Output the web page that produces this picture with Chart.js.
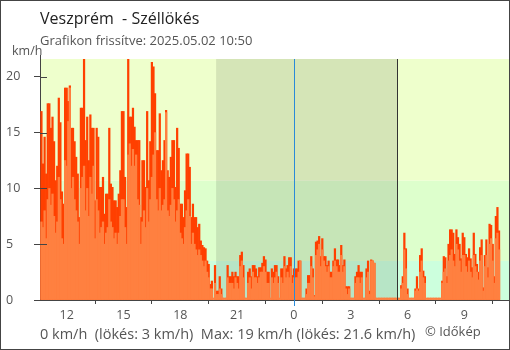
<!DOCTYPE html>
<html>
<head>
<meta charset="utf-8">
<script src="https://cdn.jsdelivr.net/npm/chart.js@4/dist/chart.umd.min.js"></script>
<style>
    html, body { margin: 0; padding: 0; background: #fff; }
    canvas { display: block; }
</style>
</head>
<body>
<canvas id="szel" width="510" height="350"></canvas>
<script>
'use strict';

// Veszprém széllökés, 5 perces adatok 10:40-tól másnap 10:50-ig
const startHour = 10 + 40 / 60;
const stepMinutes = 5;

const gust = [
    16.9, 12.2, 14.6, 11.3,
    17.6, 17.6, 15.4, 16.4, 14.2, 10.7, 12.0, 18.1, 15.9, 9.7, 8.6, 19.0,   // 11
    19.0, 17.8, 19.2, 15.4, 15.4, 14.2, 12.8, 11.3, 7.4, 17.2, 17.2, 21.6,  // 12
    14.3, 16.4, 12.5, 16.6, 15.4, 15.4, 8.9, 15.4, 14.6, 10.1, 10.1, 11.0,  // 13
    7.7, 9.5, 9.5, 15.4, 10.4, 10.1, 8.9, 8.9, 8.3, 9.5, 11.6, 16.9,        // 14
    16.9, 11.0, 8.3, 21.6, 16.4, 16.4, 17.2, 15.5, 14.3, 14.3, 14.3, 7.4,   // 15
    12.5, 12.5, 10.1, 16.9, 10.7, 14.2, 21.3, 20.9, 18.5, 13.4, 13.4, 16.7, // 16
    11.6, 12.5, 14.3, 17.0, 11.6, 11.0, 12.8, 14.3, 14.3, 10.1, 15.4, 13.6, // 17
    8.6, 8.6, 7.4, 9.8, 13.1, 13.1, 11.9, 7.4, 8.6, 7.4, 7.4, 6.5,          // 18
    6.8, 5.3, 4.9, 4.7, 4.6, 3.5, 3.2, 1.4, 1.7, 0, 3.1, 0.8,               // 19
    0.8, 2.1, 1.0, 0, 0, 0, 3.1, 2.1, 2.1, 2.5, 2.1, 2.5,                   // 20
    2.1, 2.1, 4.0, 4.3, 3.1, 0, 0, 2.5, 2.8, 2.1, 3.1, 3.1,                 // 21
    2.8, 2.1, 2.9, 2.9, 3.3, 3.9, 3.6, 2.5, 2.5, 0, 2.8, 2.5,               // 22
    3.1, 3.1, 2.1, 0, 2.8, 2.8, 3.9, 2.8, 3.1, 3.8, 3.8, 2.2,               // 23
    2.8, 2.8, 2.8, 3.5, 3.5, 0, 0, 0, 1.0, 2.2, 2.2, 3.9,                   // 0
    2.8, 0.4, 5.2, 5.3, 5.7, 3.9, 5.5, 3.9, 3.9, 3.1, 3.5, 2.5,             // 1
    2.5, 3.5, 4.6, 3.6, 3.6, 3.1, 4.9, 3.1, 3.6, 1.2, 1.2, 1.2,             // 2
    0, 0, 0, 2.1, 2.5, 3.1, 2.5, 2.5, 0, 0, 2.8, 3.5,                       // 3
    0.8, 3.6, 3.5, 3.3, 0, 0, 0, 0, 0, 0, 0, 0,                             // 4
    0, 0, 0, 0, 0, 0, 0, 0, 1.3, 2.1, 6.0, 4.6,                             // 5
    1.0, 0, 0, 0, 0, 1.0, 2.1, 1.0, 4.0, 4.6, 2.6, 2.1,                     // 6
    0, 0, 0, 0, 0, 0, 0, 0, 0, 0, 1.7, 3.9,                                 // 7
    3.8, 2.1, 5.0, 6.3, 6.3, 6.0, 4.1, 6.3, 5.6, 5.0, 3.7, 6.0,             // 8
    5.6, 4.1, 3.8, 4.6, 3.7, 2.9, 6.0, 4.1, 3.2, 2.5, 4.7, 5.4,             // 9
    1.1, 4.0, 5.4, 2.9, 6.8, 6.7, 5.0, 2.1, 7.5, 8.3, 6.2                   // 10
];

const wind = [
    7.0, 6.5, 8.0, 5.5,
    9.0, 10.0, 8.5, 9.5, 7.5, 6.0, 7.0, 11.0, 9.0, 5.5, 5.0, 12.5,
    12.0, 16.0, 19.0, 10.0, 11.0, 9.0, 8.0, 7.0, 5.0, 10.0, 11.0, 12.0,
    8.0, 10.0, 7.5, 11.0, 9.5, 12.0, 5.5, 9.0, 8.0, 6.0, 6.5, 7.0,
    5.0, 6.0, 6.5, 9.0, 7.0, 6.5, 5.5, 6.0, 5.0, 6.0, 7.5, 9.0,
    9.0, 6.5, 5.0, 13.0, 14.0, 12.0, 13.5, 12.0, 13.0, 9.0, 8.5, 5.0,
    7.0, 8.0, 6.5, 10.0, 7.0, 9.0, 11.0, 13.0, 15.0, 9.0, 8.0, 10.0,
    8.0, 8.5, 9.0, 16.8, 8.0, 7.5, 8.5, 10.0, 9.0, 7.0, 8.0, 9.0,
    6.0, 5.5, 5.0, 6.5, 8.0, 9.0, 7.5, 5.0, 6.0, 5.0, 4.5, 4.0,
    4.5, 4.0, 3.5, 3.0, 3.5, 2.5, 2.0, 1.0, 1.0, 0, 1.5, 0.5,
    0.5, 1.0, 0.5, 0, 0, 0, 2.0, 1.5, 1.5, 1.5, 1.0, 2.0,
    1.5, 1.0, 3.0, 3.5, 2.0, 0, 0, 1.5, 2.0, 1.0, 2.5, 2.0,
    2.0, 1.5, 2.0, 2.5, 2.5, 3.0, 2.5, 1.5, 1.5, 0, 2.0, 1.5,
    2.0, 2.5, 1.5, 0, 2.0, 1.5, 3.0, 2.0, 2.5, 2.0, 3.0, 1.5,
    2.0, 2.0, 2.0, 2.5, 3.5, 0, 0, 0, 0.5, 1.5, 1.5, 3.0,
    2.0, 0.3, 4.0, 4.5, 5.0, 3.0, 4.5, 3.5, 3.0, 2.5, 3.0, 2.0,
    2.0, 3.0, 3.5, 3.0, 2.5, 2.5, 4.0, 2.5, 3.0, 1.0, 0.5, 1.0,
    0, 0, 0, 1.5, 2.0, 2.0, 1.5, 2.0, 0, 0, 2.0, 2.5,
    0.5, 3.5, 3.5, 3.3, 0, 0, 0, 0, 0, 0, 0, 0,
    0, 0, 0, 0, 0, 0, 0, 0, 1.0, 1.5, 4.5, 2.8,
    0.5, 0, 0, 0, 0, 0.8, 1.0, 0.8, 2.5, 3.5, 2.0, 1.5,
    0, 0, 0, 0, 0, 0, 0, 0, 0, 0, 1.5, 2.5,
    2.8, 1.5, 3.5, 4.0, 4.5, 3.5, 3.0, 5.0, 4.5, 3.5, 2.5, 4.0,
    4.0, 3.0, 2.5, 3.5, 2.5, 2.0, 4.0, 3.0, 2.5, 1.8, 3.5, 4.0,
    0.8, 3.0, 4.0, 2.0, 5.0, 5.5, 3.5, 1.5, 5.5, 6.0, 4.5
];

// sávhatárok km/h-ban, naplemente / napkelte órában (24 = éjfél)
const bandLimits = [3.5, 10.7];
const bandColors = ['#ccffdd', '#ddffcc', '#eeffcc'];
const sunset = 19.89;
const sunrise = 29.46;

const titleText = 'Veszprém  - Széllökés';
const subtitleText = 'Grafikon frissítve: 2025.05.02 10:50';
const footerText = '0 km/h  (lökés: 3 km/h)  Max: 19 km/h (lökés: 21.6 km/h)';
const creditText = '© Időkép';

const FONT = '"Open Sans", "Noto Sans", sans-serif';

function toPoints(values) {
    return values.map((v, i) => ({ x: startHour + i * stepMinutes / 60, y: v }));
}

const decorPlugin = {
    id: 'decor',
    beforeDraw(chart) {
        const { ctx, chartArea: a, scales: { x, y } } = chart;
        ctx.save();
        ctx.fillStyle = '#fff';
        ctx.fillRect(0, 0, chart.width, chart.height);
        const edges = [0, ...bandLimits, y.max];
        for (let i = 0; i < bandColors.length; i++) {
            const top = y.getPixelForValue(edges[i + 1]);
            const bottom = y.getPixelForValue(edges[i]);
            ctx.fillStyle = bandColors[i];
            ctx.fillRect(a.left, top, a.right - a.left, bottom - top);
        }
        const x1 = x.getPixelForValue(sunset);
        const x2 = x.getPixelForValue(sunrise);
        ctx.fillStyle = 'rgba(0, 0, 0, 0.1)';
        ctx.fillRect(x1, a.top, x2 - x1, a.bottom - a.top);
        ctx.restore();
    },
    afterDatasetsDraw(chart) {
        const { ctx, chartArea: a, scales: { x, y } } = chart;
        ctx.save();
        ctx.lineWidth = 1;
        // napkelte
        let px = Math.round(x.getPixelForValue(sunrise)) + 0.5;
        ctx.strokeStyle = '#333';
        ctx.beginPath();
        ctx.moveTo(px, a.top);
        ctx.lineTo(px, a.bottom);
        ctx.stroke();
        // éjfél
        px = Math.round(x.getPixelForValue(24)) + 0.5;
        ctx.strokeStyle = '#2a8ad8';
        ctx.beginPath();
        ctx.moveTo(px, a.top);
        ctx.lineTo(px, a.bottom + 6);
        ctx.stroke();
        // y tengely jelölők befelé, tengely teteje
        ctx.strokeStyle = '#444';
        ctx.beginPath();
        y.ticks.forEach(t => {
            const py = Math.round(y.getPixelForValue(t.value)) + 0.5;
            ctx.moveTo(a.left, py);
            ctx.lineTo(a.left + 7, py);
        });
        ctx.moveTo(a.left + 0.5, a.top - 4);
        ctx.lineTo(a.left + 0.5, a.top);
        ctx.stroke();
        ctx.restore();
    },
    afterDraw(chart) {
        const { ctx, chartArea: a } = chart;
        ctx.save();
        ctx.textBaseline = 'alphabetic';
        ctx.textAlign = 'left';
        ctx.fillStyle = '#222';
        ctx.font = '16px ' + FONT;
        ctx.fillText(titleText, a.left, 24);
        ctx.fillStyle = '#555';
        ctx.font = '13px ' + FONT;
        ctx.fillText(subtitleText, a.left, 45);
        ctx.font = '12.5px ' + FONT;
        ctx.fillText('km/h', 12, 55);
        ctx.font = '14.5px ' + FONT;
        ctx.fillText(footerText, a.left, 339);
        ctx.font = '13px ' + FONT;
        ctx.fillText(creditText, 425, 336);
        ctx.strokeStyle = '#444';
        ctx.lineWidth = 1;
        ctx.strokeRect(0.5, 0.5, chart.width - 1, chart.height - 1);
        ctx.restore();
    }
};

new Chart(document.getElementById('szel'), {
    type: 'bar',
    data: {
        datasets: [{
            label: 'Szél',
            data: toPoints(wind),
            backgroundColor: '#ff8040',
            minBarLength: 2,
            order: 0
        }, {
            label: 'Széllökés',
            data: toPoints(gust),
            backgroundColor: '#ff4000',
            order: 1
        }]
    },
    options: {
        responsive: false,
        animation: false,
        devicePixelRatio: 1,
        grouped: false,
        barPercentage: 1,
        categoryPercentage: 1,
        layout: { padding: { left: 6, top: 59, right: 1, bottom: 0 } },
        plugins: {
            legend: { display: false },
            tooltip: { enabled: false }
        },
        scales: {
            x: {
                type: 'linear',
                offset: false,
                min: 10.59,
                max: 35.36,
                afterFit: scale => { scale.height = 50; },
                border: { color: '#444' },
                grid: { drawOnChartArea: false, tickLength: 4, tickColor: '#444' },
                ticks: {
                    stepSize: 3,
                    includeBounds: false,
                    autoSkip: false,
                    maxRotation: 0,
                    padding: 4,
                    color: '#555',
                    font: { family: FONT, size: 12.5 },
                    callback: v => v % 24
                }
            },
            y: {
                min: 0,
                max: 21.6,
                afterFit: scale => { scale.width = 34; },
                border: { color: '#444' },
                grid: { drawOnChartArea: false, tickLength: 6, tickColor: '#444' },
                ticks: {
                    stepSize: 5,
                    includeBounds: false,
                    crossAlign: 'far',
                    color: '#555',
                    font: { family: FONT, size: 12.5 }
                }
            }
        }
    },
    plugins: [decorPlugin]
});
</script>
</body>
</html>
